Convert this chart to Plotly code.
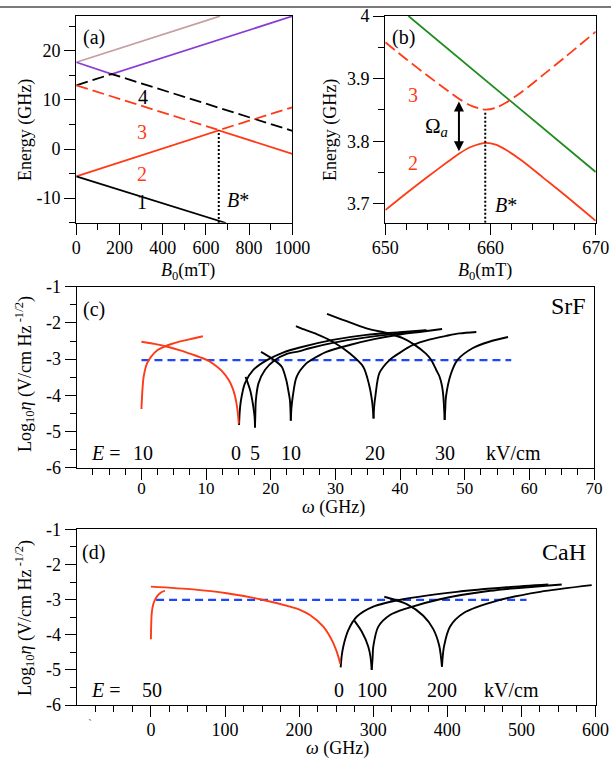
import plotly.graph_objects as go

FONT = "Liberation Serif"
RED = "#ff3a17"
PURPLE = "#8a3dd0"
TAN = "#c49f9f"
GREEN = "#1f8c1f"
BLUE = "#1f46ff"

# ---------------- Panel (a): energy levels vs B0 ----------------
a_l1_B = [0, 693]
a_l1_E = [-5.6, -15.1]
a_l2_B = [0, 659.6, 1000]
a_l2_E = [-5.6, 3.8, -1.0]
a_l3_B = [0, 659.6, 1000]
a_l3_E = [13.0, 3.85, 8.5]
a_l4_B = [0, 164, 1000]
a_l4_E = [13.0, 15.3, 3.7]
a_purple_B = [0, 164, 1000]
a_purple_E = [17.7, 15.3, 27.1]
a_tan_B = [0, 665]
a_tan_E = [17.7, 27.1]
a_bstar_B = [659.6, 659.6]
a_bstar_E = [-15.1, 3.8]

# ---------------- Panel (b): avoided crossing zoom ----------------
b_B = [650, 652, 654, 656, 657, 658, 659, 659.6, 660.5, 661.5, 663, 665, 667, 670]
b_l2_E = [3.690, 3.717, 3.743, 3.768, 3.780, 3.790, 3.796, 3.7975, 3.7945, 3.786, 3.769, 3.742, 3.715, 3.673]
b_l3_E = [3.958, 3.931, 3.905, 3.880, 3.868, 3.858, 3.852, 3.8505, 3.8535, 3.862, 3.879, 3.906, 3.933, 3.975]
b_green_B = [652.2, 670]
b_green_E = [4.0, 3.751]
b_bstar_B = [659.5, 659.5]
b_bstar_E = [3.67, 3.846]
b_arrow_B = 657.0
b_arrow_E = [3.784, 3.866]

# ---------------- Panel (c): SrF sensitivity ----------------
c_red_rise_w = [0.0, 0.15, 0.34, 0.86, 1.5, 2.4, 3.5, 4.5, 6.0, 8.0, 9.5]
c_red_rise_eta = [-4.38, -3.85, -3.49, -3.12, -2.93, -2.76, -2.66, -2.59, -2.51, -2.43, -2.37]
c_red_fall_w = [0.0, 2.0, 4.0, 6.0, 8.0, 9.1, 10.2, 11.4, 12.5, 13.5, 14.1, 14.5, 14.85, 15.05]
c_red_fall_eta = [-2.52, -2.58, -2.66, -2.76, -2.88, -2.95, -3.03, -3.17, -3.34, -3.58, -3.80, -4.04, -4.40, -4.78]
c_A_right_w = [15.1, 15.2, 15.4, 16.0, 17.3, 19.4, 21.9, 24.5, 29.6, 34.8, 39.9, 44.0]
c_A_right_eta = [-4.82, -4.45, -4.13, -3.67, -3.30, -3.03, -2.82, -2.68, -2.47, -2.33, -2.26, -2.20]
c_B_left_w = [16.1, 16.8, 17.3, 17.5, 17.56]
c_B_left_eta = [-3.49, -3.85, -4.31, -4.60, -4.89]
c_B_right_w = [17.56, 17.62, 17.7, 18.1, 19.1, 20.6, 22.4, 24.5, 26.0, 29.6, 34.8, 39.9, 44.2]
c_B_right_eta = [-4.89, -4.50, -4.13, -3.67, -3.30, -3.03, -2.86, -2.78, -2.70, -2.55, -2.40, -2.29, -2.21]
c_C_left_w = [18.5, 20.4, 21.7, 22.4, 22.7, 22.96, 23.1]
c_C_left_eta = [-2.80, -3.01, -3.21, -3.58, -3.85, -4.13, -4.70]
c_C_right_w = [23.1, 23.2, 23.4, 24.0, 25.5, 26.3, 28.6, 32.2, 36.0, 40.0, 43.0, 46.5]
c_C_right_eta = [-4.70, -4.35, -4.04, -3.49, -3.12, -3.02, -2.80, -2.61, -2.45, -2.32, -2.25, -2.17]
c_D_left_w = [23.9, 24.5, 27.1, 29.6, 32.2, 34.3, 35.2, 35.7, 35.9]
c_D_left_eta = [-2.09, -2.14, -2.31, -2.52, -2.84, -3.21, -3.70, -4.20, -4.64]
c_D_right_w = [35.9, 36.0, 36.2, 36.8, 38.4, 40.0, 42.0, 44.5, 47.1, 49.2, 51.8]
c_D_right_eta = [-4.64, -4.30, -4.00, -3.39, -3.02, -2.82, -2.61, -2.46, -2.36, -2.29, -2.25]
c_E_left_w = [28.7, 31.5, 34.8, 38.4, 40.5, 42.2, 44.0, 44.8, 45.6, 46.1, 46.5, 46.7, 46.9]
c_E_left_eta = [-1.75, -1.94, -2.15, -2.30, -2.43, -2.60, -2.85, -3.02, -3.30, -3.48, -3.75, -4.04, -4.68]
c_E_right_w = [46.9, 47.0, 47.1, 47.9, 48.9, 51.2, 53.8, 56.7]
c_E_right_eta = [-4.68, -4.35, -4.04, -3.39, -3.02, -2.70, -2.52, -2.39]
c_thresh_w = [0, 57.2]
c_thresh_eta = [-3.03, -3.03]
c_E_labels = ["10", "0", "5", "10", "20", "30"]
c_E_label_w = [0.3, 14.7, 17.5, 23.2, 36.2, 47.0]

# ---------------- Panel (d): CaH sensitivity ----------------
d_red_rise_w = [0, 0.3, 1.1, 3.0, 5.5, 8.5, 12.3, 16.0, 19.0]
d_red_rise_eta = [-4.13, -3.80, -3.39, -3.15, -3.01, -2.90, -2.82, -2.77, -2.75]
d_red_fall_w = [0, 57.2, 102.3, 147.2, 187.7, 201.2, 214.7, 232.7, 246.2, 254.3, 255.2]
d_red_fall_eta = [-2.63, -2.71, -2.82, -2.99, -3.20, -3.29, -3.44, -3.77, -4.24, -4.72, -4.82]
d_P_right_w = [256.1, 257.5, 259.6, 266.4, 277.7, 300.1, 340.6, 412.7, 480.2, 536.3]
d_P_right_eta = [-4.93, -4.60, -4.34, -3.87, -3.49, -3.20, -2.99, -2.78, -2.65, -2.57]
d_Q_left_w = [274.5, 284.5, 293.4, 296.5, 298.0]
d_Q_left_eta = [-3.60, -3.91, -4.34, -4.65, -5.00]
d_Q_right_w = [298.0, 299.2, 300.1, 306.9, 322.7, 345.2, 390.1, 457.6, 554.4]
d_Q_right_eta = [-5.00, -4.65, -4.34, -3.77, -3.44, -3.25, -2.99, -2.75, -2.57]
d_R_left_w = [315, 345.2, 367.6, 381.1, 389.2, 392.8]
d_R_left_eta = [-2.92, -3.13, -3.46, -3.84, -4.32, -4.91]
d_R_right_w = [392.8, 395.5, 403.6, 421.6, 471.1, 525.1, 594.9]
d_R_right_eta = [-4.91, -4.34, -3.77, -3.39, -3.01, -2.78, -2.59]
d_thresh_w = [7, 507]
d_thresh_eta = [-3.01, -3.01]
d_E_labels = ["50", "0", "100", "200"]
d_E_label_w = [1.5, 253.8, 298.4, 393.2]

# ---------------- Ticks ----------------
a_xt = [0, 200, 400, 600, 800, 1000]
a_xminor = [100, 300, 500, 700, 900]
a_yt = [-10, 0, 10, 20]
a_ytext = ["-10", "0", "10", "20"]
a_yminor = [-15, -5, 5, 15, 25]
b_xt = [650, 660, 670]
b_xminor = [652, 654, 656, 658, 662, 664, 666, 668]
b_yt = [3.7, 3.8, 3.9, 4.0]
b_ytext = ["3.7", "3.8", "3.9", "4"]
b_yminor = [3.75, 3.85, 3.95]
c_xt = [0, 10, 20, 30, 40, 50, 60, 70]
c_xminor = [-7.5, -5, -2.5, 2.5, 5, 7.5, 12.5, 15, 17.5, 22.5, 25, 27.5, 32.5, 35, 37.5,
            42.5, 45, 47.5, 52.5, 55, 57.5, 62.5, 65, 67.5]
eta_yt = [-6, -5, -4, -3, -2, -1]
eta_ytext = ["-6", "-5", "-4", "-3", "-2", "-1"]
eta_yminor = [-5.5, -4.5, -3.5, -2.5, -1.5]
d_xt = [0, 100, 200, 300, 400, 500, 600]
d_xminor = [-75, -50, -25, 25, 50, 75, 125, 150, 175, 225, 250, 275, 325, 350, 375,
            425, 450, 475, 525, 550, 575]

W, H = 611, 764


def px_x(p):
    return p / W


def px_y(p):
    return 1 - p / H


fig = go.Figure()


def add_line(x, y, xa, ya, color, width=1.8, dash="solid", shape="linear"):
    line = dict(color=color, width=width, dash=dash, shape=shape)
    if shape == "spline":
        line["smoothing"] = 0.8
    fig.add_trace(go.Scatter(x=x, y=y, xaxis=xa, yaxis=ya, mode="lines", line=line,
                             showlegend=False, hoverinfo="skip"))


# panel (a)
add_line(a_tan_B, a_tan_E, "x", "y", TAN)
add_line(a_purple_B, a_purple_E, "x", "y", PURPLE)
add_line(a_l4_B, a_l4_E, "x", "y", "black", dash="12px,5px")
add_line(a_l3_B, a_l3_E, "x", "y", RED, dash="12px,5px")
add_line(a_l2_B, a_l2_E, "x", "y", RED)
add_line(a_l1_B, a_l1_E, "x", "y", "black")
add_line(a_bstar_B, a_bstar_E, "x", "y", "black", width=2, dash="2px,2px")

# panel (b)
add_line(b_green_B, b_green_E, "x2", "y2", GREEN)
add_line(b_B, b_l3_E, "x2", "y2", RED, dash="12px,5px", shape="spline")
add_line(b_B, b_l2_E, "x2", "y2", RED, shape="spline")
add_line(b_bstar_B, b_bstar_E, "x2", "y2", "black", width=2, dash="2px,2px")

# panel (c)
add_line(c_thresh_w, c_thresh_eta, "x3", "y3", BLUE, width=2.2, dash="8px,5px")
for wv, ev in [(c_A_right_w, c_A_right_eta), (c_B_left_w, c_B_left_eta), (c_B_right_w, c_B_right_eta),
               (c_C_left_w, c_C_left_eta), (c_C_right_w, c_C_right_eta), (c_D_left_w, c_D_left_eta),
               (c_D_right_w, c_D_right_eta), (c_E_left_w, c_E_left_eta), (c_E_right_w, c_E_right_eta)]:
    add_line(wv, ev, "x3", "y3", "black", width=1.9, shape="spline")
add_line(c_red_rise_w, c_red_rise_eta, "x3", "y3", RED, width=1.9, shape="spline")
add_line(c_red_fall_w, c_red_fall_eta, "x3", "y3", RED, width=1.9, shape="spline")

# panel (d)
add_line(d_thresh_w, d_thresh_eta, "x4", "y4", BLUE, width=2.2, dash="8px,5px")
for wv, ev in [(d_P_right_w, d_P_right_eta), (d_Q_left_w, d_Q_left_eta), (d_Q_right_w, d_Q_right_eta),
               (d_R_left_w, d_R_left_eta), (d_R_right_w, d_R_right_eta)]:
    add_line(wv, ev, "x4", "y4", "black", width=1.9, shape="spline")
add_line(d_red_rise_w, d_red_rise_eta, "x4", "y4", RED, width=1.9, shape="spline")
add_line(d_red_fall_w, d_red_fall_eta, "x4", "y4", RED, width=1.9, shape="spline")


def axis(rng, domain, anchor, major, labels, minor, standoff=0, fsize=18):
    return dict(range=rng, domain=domain, anchor=anchor, automargin=False,
                showline=True, linecolor="black",
                linewidth=1.3, mirror=True, ticks="outside", ticklen=11, tickwidth=1.2,
                tickcolor="black", tickmode="array", tickvals=major, ticktext=labels,
                ticklabelstandoff=standoff,
                minor=dict(tickmode="array", tickvals=minor, ticks="outside", ticklen=6,
                           tickwidth=1.2, tickcolor="black", showgrid=False),
                showgrid=False, zeroline=False, fixedrange=True,
                tickfont=dict(family=FONT, size=fsize, color="black"))


top_dom = [px_y(222.7), px_y(16)]
layout = dict(
    template="none",
    width=W, height=H, margin=dict(l=0, r=0, t=0, b=0, autoexpand=False),
    paper_bgcolor="white", plot_bgcolor="white",
    font=dict(family=FONT, size=18, color="black"),
    xaxis=axis([0, 1000], [px_x(76.3), px_x(292.3)], "y", a_xt, [str(v) for v in a_xt], a_xminor, -2),
    yaxis=axis([-15.04, 27.14], top_dom, "x", a_yt, a_ytext, a_yminor),
    xaxis2=axis([650, 670], [px_x(385.3), px_x(595.7)], "y2", b_xt, [str(v) for v in b_xt], b_xminor, -2),
    yaxis2=axis([3.67, 4.0], top_dom, "x2", b_yt, b_ytext, b_yminor),
    xaxis3=axis([-10, 70], [px_x(76.8), px_x(594)], "y3", c_xt, [str(v) for v in c_xt], c_xminor, -6, 17),
    yaxis3=axis([-6, -1], [px_y(467.7), px_y(286.7)], "x3", eta_yt, eta_ytext, eta_yminor),
    xaxis4=axis([-100, 600], [px_x(76.8), px_x(595.5)], "y4", d_xt, [str(v) for v in d_xt], d_xminor, -3),
    yaxis4=axis([-6, -1], [px_y(705), px_y(529.3)], "x4", eta_yt, eta_ytext, eta_yminor),
)
fig.update_layout(**layout)

ann = []


def txt(x, y, s, xr, yr, size=20, color="black", xanchor="center", angle=0):
    ann.append(dict(x=x, y=y, xref=xr, yref=yr, text=s, showarrow=False, xanchor=xanchor,
                    yanchor="middle", textangle=angle,
                    font=dict(family=FONT, size=size, color=color)))


# panel (a) labels
txt(82, 22.8, "(a)", "x", "y")
txt(310, 10.7, "4", "x", "y")
txt(303, 3.5, "3", "x", "y", color=RED)
txt(303, -5.0, "2", "x", "y", color=RED)
txt(303, -10.9, "1", "x", "y")
txt(750, -10.4, "<i>B</i>*", "x", "y")
# panel (b) labels
txt(651.7, 3.966, "(b)", "x2", "y2")
txt(652.6, 3.874, "3", "x2", "y2", color=RED)
txt(652.6, 3.765, "2", "x2", "y2", color=RED)
txt(654.9, 3.822, "Ω<sub><i>a</i></sub>", "x2", "y2", size=21)
txt(661.5, 3.698, "<i>B</i>*", "x2", "y2")
ann.append(dict(x=b_arrow_B, y=b_arrow_E[0], ax=b_arrow_B, ay=b_arrow_E[1], xref="x2", yref="y2",
                axref="x2", ayref="y2", text="", showarrow=True, arrowhead=2, arrowsize=1,
                arrowwidth=2, arrowside="end+start", arrowcolor="black"))
# panel (c) labels
txt(-7.3, -1.62, "(c)", "x3", "y3")
txt(69.1, -1.53, "SrF", "x3", "y3", size=24, xanchor="right")
txt(-5.5, -5.59, "<i>E</i> =", "x3", "y3")
for s, wv in zip(c_E_labels, c_E_label_w):
    txt(wv, -5.59, s, "x3", "y3")
txt(57.5, -5.59, "kV/cm", "x3", "y3")
# panel (d) labels
txt(-78.1, -1.65, "(d)", "x4", "y4")
txt(590.5, -1.65, "CaH", "x4", "y4", size=24, xanchor="right")
txt(-60.3, -5.57, "<i>E</i> =", "x4", "y4")
for s, wv in zip(d_E_labels, d_E_label_w):
    txt(wv, -5.57, s, "x4", "y4")
txt(487.3, -5.57, "kV/cm", "x4", "y4")
txt(px_x(90), px_y(724), "`", "paper", "paper", size=12, color="#777777")

# axis titles
txt(px_x(25), px_y(130), "Energy (GHz)", "paper", "paper", size=18, angle=-90)
txt(px_x(330), px_y(130), "Energy (GHz)", "paper", "paper", size=18, angle=-90)
txt(px_x(188), px_y(272), "<i>B</i><sub>0</sub>(mT)", "paper", "paper", size=18)
txt(px_x(485), px_y(272), "<i>B</i><sub>0</sub>(mT)", "paper", "paper", size=18)
txt(px_x(333), px_y(507), "<i>ω</i> (GHz)", "paper", "paper", size=18)
txt(px_x(337), px_y(748), "<i>ω</i> (GHz)", "paper", "paper", size=18)
ytitle = "Log<sub>10</sub><i>η</i> (V/cm Hz<sup> -1/2</sup>)"
txt(px_x(24), px_y(374), ytitle, "paper", "paper", size=18, angle=-90)
txt(px_x(24), px_y(618), ytitle, "paper", "paper", size=18, angle=-90)

fig.update_layout(annotations=ann)
fig.add_shape(type="line", xref="paper", yref="paper", x0=0, x1=1, y0=px_y(7), y1=px_y(7),
              layer="above", line=dict(color="#7a7a7a", width=2))

fig.write_html("out.html", config={"displayModeBar": False},
               post_script="document.body.style.margin='0px';document.body.style.overflow='hidden';")
